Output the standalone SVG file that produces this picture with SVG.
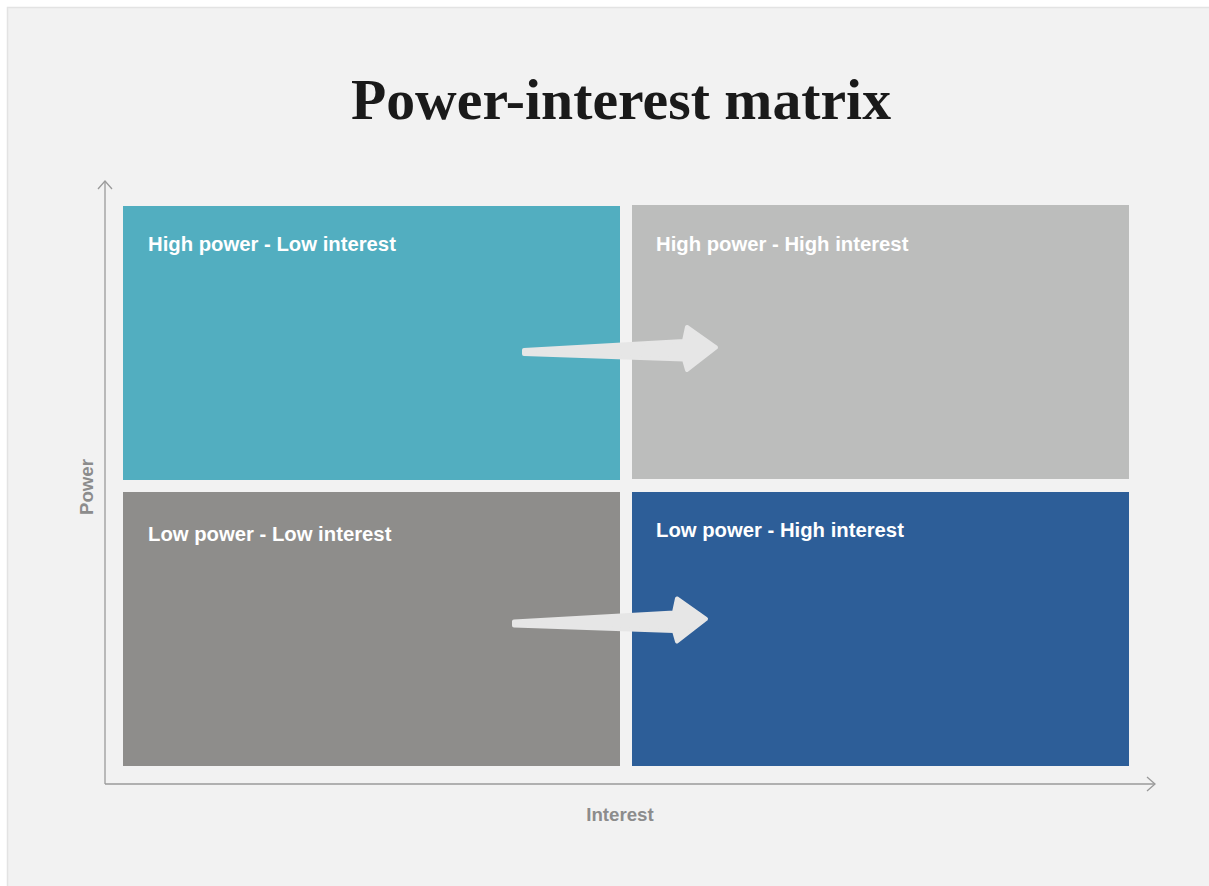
<svg xmlns="http://www.w3.org/2000/svg" width="1209" height="886" viewBox="0 0 1209 886">
<defs>
<style>
.lbl{font-family:"Liberation Sans",Arial,sans-serif;font-weight:bold;font-size:20.3px;fill:#ffffff}
.ax{font-family:"Liberation Sans",Arial,sans-serif;font-weight:bold;font-size:18.7px;fill:#8c8c8c}
.axis{stroke:#9a9a9a;stroke-width:1.3;fill:none}
.big{fill:#e6e6e6;stroke:#e6e6e6;stroke-width:4;stroke-linejoin:round}
</style>
<marker id="open" viewBox="0 0 10 16" refX="9" refY="8" markerWidth="10" markerHeight="16" markerUnits="userSpaceOnUse" orient="auto">
<path d="M1,1 L9,8 L1,15" fill="none" stroke="#9a9a9a" stroke-width="1.3"/>
</marker>
</defs>
<rect x="0" y="0" width="1209" height="886" fill="#ffffff"/>
<rect x="7.5" y="7.5" width="1210" height="890" fill="#f2f2f2" stroke="#e3e3e3" stroke-width="1.5"/>
<text x="621" y="119" text-anchor="middle" font-family="'Liberation Serif','Times New Roman',serif" font-weight="bold" font-size="56" fill="#1a1a1a" textLength="540" lengthAdjust="spacingAndGlyphs">Power-interest matrix</text>
<g id="axes">
<path class="axis" d="M105,784 L105,181" marker-end="url(#open)"/>
<path class="axis" d="M105,784 L1155,784" marker-end="url(#open)"/>
<text class="ax" transform="translate(93,487) rotate(-90)" text-anchor="middle">Power</text>
<text class="ax" x="620" y="821" text-anchor="middle">Interest</text>
</g>
<g id="q-hp-li">
<rect x="123" y="206" width="497" height="274" fill="#52aec0"/>
<text class="lbl" x="148" y="250.5">High power - Low interest</text>
</g>
<g id="q-hp-hi">
<rect x="632" y="205" width="497" height="274" fill="#bcbdbc"/>
<text class="lbl" x="656" y="250.5">High power - High interest</text>
</g>
<g id="q-lp-li">
<rect x="123" y="492" width="497" height="274" fill="#8e8d8b"/>
<text class="lbl" x="148" y="540.5">Low power - Low interest</text>
</g>
<g id="q-lp-hi">
<rect x="632" y="492" width="497" height="274" fill="#2d5e98"/>
<text class="lbl" x="656" y="537">Low power - High interest</text>
</g>
<g id="connectors">
<polygon class="big" points="524,350 684,341 687,327 716,347.5 687,370 684,359.5 524,354"/>
<polygon class="big" points="514,621.5 674,612.5 677,598.5 706,619 677,641.5 674,631 514,625.5"/>
</g>
</svg>
